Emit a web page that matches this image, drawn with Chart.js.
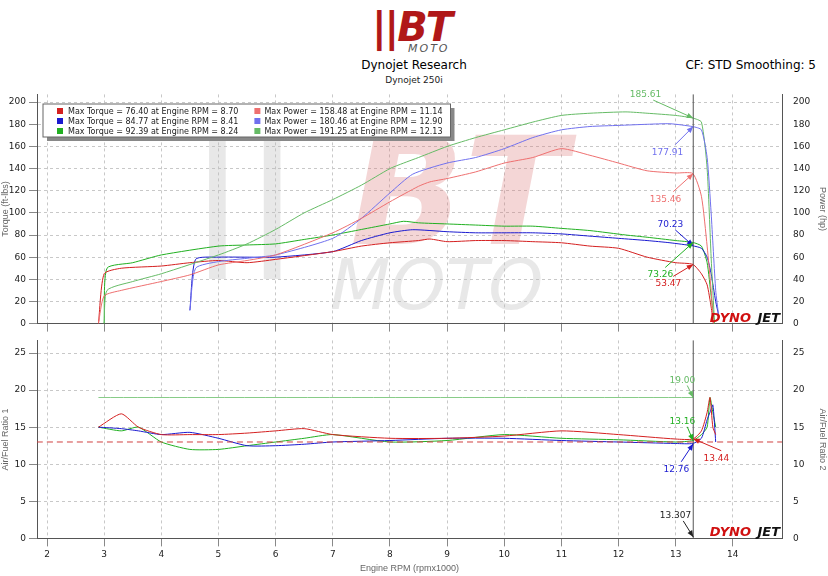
<!DOCTYPE html>
<html><head><meta charset="utf-8">
<script src="https://cdn.jsdelivr.net/npm/chart.js@4.4.0/dist/chart.umd.min.js"></script>
<style>
body{margin:0;width:828px;height:576px;background:#fff;font-family:"DejaVu Sans",sans-serif;position:relative;overflow:hidden}
#logo{position:absolute;left:372px;top:4px;font:italic 900 40px "DejaVu Sans";color:#b01818;letter-spacing:-2px}
#logo small{position:absolute;left:36px;top:38px;font:italic 11px "DejaVu Sans";color:#555;letter-spacing:2px}
#t1{position:absolute;left:0;width:828px;top:58px;text-align:center;font-size:12px;color:#000}
#t2{position:absolute;left:0;width:828px;top:75px;text-align:center;font-size:9px;color:#222}
#cf{position:absolute;right:12px;top:58px;font-size:12px}
#c1{position:absolute;left:0;top:86px}
#c2{position:absolute;left:0;top:332px}
</style></head><body>
<div id="logo">||BT<small>MOTO</small></div>
<div id="t1">Dynojet Research</div>
<div id="t2">Dynojet 250i</div>
<div id="cf">CF: STD Smoothing: 5</div>
<canvas id="c1" width="828" height="246"></canvas>
<canvas id="c2" width="828" height="244"></canvas>
<script>
// RPM x1000 samples per run
const rpm1 = [2.9,3.0,3.3,4,4.5,5,5.5,6,7,7.5,8,8.5,8.7,9,9.5,10,10.5,11,11.5,12,12.5,13,13.3,13.45,13.55,13.62,13.66];
const torque1 = [0,45,50,52,55,57,55,58,65,70,73,75,76.4,74,75,75,74,73,70,68,60,55,53.5,45,35,15,0];
const power1 = [0,25,30,38,44,53,57,62,82,95,110,124,128,131,137,145,150,158,152,145,138,136,135.5,115,70,30,0];
const rpm2 = [4.5,4.6,5,5.5,6,7,7.5,8,8.4,9,9.5,10,10.5,11,11.5,12,12.5,12.9,13.3,13.45,13.55,13.62,13.7,13.75];
const torque2 = [12,58,60,60,60,65,75,82,84.8,83,82,82,82,81,79,77,75,73,70.2,68,60,45,20,8];
const power2 = [12,50,56,59,62,77,95,118,135,145,150,158,168,175,178,179,180,180.5,177.9,175,150,100,30,8];
const rpm3 = [3.0,3.05,3.5,4,5,5.5,6,6.5,7,7.5,8,8.24,8.5,9,9.5,10,10.5,11,11.5,12.13,12.5,13,13.3,13.45,13.55,13.62,13.68];
const torque3 = [0,50,55,62,70,71,72,76,80,85,90,92.4,91,90,89,88,88,86,84,80,78,75,73.3,70,55,25,0];
const power3 = [0,30,38,45,62,72,85,100,112,125,140,145,150,160,168,175,182,188,190,191.2,190,188,185.6,182,140,60,0];
const afrRpm = [2.9,3.3,3.6,4,4.5,5,5.5,6,6.5,7,8,9,10,11,12,13,13.3,13.45,13.55,13.6,13.65,13.7];
const afr1 = [15,16.8,15,14,14,14,14.2,14.5,14.8,14,13.5,13.5,13.8,14.5,14,13.4,13.4,14.5,17,19,15,14];
const afr2 = [15,14.8,14.5,14,14.3,13.5,12.5,12.5,12.7,13,13.2,13.5,13.5,13.2,13,12.8,12.8,13.5,16,17,18,13];
const afr3 = [15,14.5,15,13,12,12,12.5,13,13.5,14,13,13.2,14,13.5,13.3,13,13.2,14,15,19,17,15];
const rpmTicks = [2,3,4,5,6,7,8,9,10,11,12,13,14];
const topTicks = [0,20,40,60,80,100,120,140,160,180,200];
const afrTicks = [0,5,10,15,20,25];
const cursor = 13.307;
const red = '#d42020', blue = '#1a1ad0', green = '#22b022';
const lred = '#ee7070', lblue = '#7070ee', lgreen = '#66bb66';

const pts = (xs, ys) => xs.map((x, i) => ({x: x, y: ys[i]}));
const line = (data, color, axis) => ({data: data, borderColor: color, borderWidth: 1, pointRadius: 0, showLine: true, yAxisID: axis || 'y', tension: 0.2});
const fitL = s => { s.width = 37; };
const fitR = s => { s.width = 46; };
const setTicks = vals => s => { s.ticks = vals.map(v => ({value: v})); };
const grid = {color: '#c8c8c8', tickColor: '#888'};
const border = {color: '#555', dash: [3, 3]};
const tickF = {font: {size: 9, family: 'DejaVu Sans'}, color: '#222'};

const overlay = (notes, brand) => ({
  id: 'overlay',
  beforeDatasetsDraw(c) {
    const g = c.ctx, a = c.chartArea;
    if (!brand) return;
    g.save();
    g.fillStyle = 'rgba(190,190,190,0.35)';
    g.font = 'italic 900 150px DejaVu Sans';
    g.fillText('||', 190, a.top + 150);
    g.fillStyle = 'rgba(220,120,120,0.3)';
    g.fillText('BT', 350, a.top + 150);
    g.fillStyle = 'rgba(190,190,190,0.35)';
    g.font = 'italic 70px DejaVu Sans';
    g.fillText('MOTO', 330, a.top + 215);
    g.restore();
  },
  afterDatasetsDraw(c) {
    const g = c.ctx, a = c.chartArea;
    g.save();
    const cx = c.scales.x.getPixelForValue(cursor);
    g.strokeStyle = '#555'; g.lineWidth = 1;
    g.beginPath(); g.moveTo(cx, a.top); g.lineTo(cx, a.bottom); g.stroke();
    g.font = '9px DejaVu Sans';
    notes.forEach(n => {
      const py = c.scales[n.axis].getPixelForValue(n.v);
      const lx = cx + n.dx, ly = py + n.dy;
      g.strokeStyle = n.c; g.fillStyle = n.c;
      g.beginPath(); g.moveTo(lx, ly); g.lineTo(cx, py); g.stroke();
      const ang = Math.atan2(py - ly, cx - lx);
      g.beginPath(); g.moveTo(cx, py);
      g.lineTo(cx - 7 * Math.cos(ang - 0.4), py - 7 * Math.sin(ang - 0.4));
      g.lineTo(cx - 7 * Math.cos(ang + 0.4), py - 7 * Math.sin(ang + 0.4));
      g.fill();
      g.textAlign = 'right';
      g.fillText(n.t, lx + 8, ly + (n.dy < 0 ? -3 : 10));
    });
    g.font = 'italic bold 13px DejaVu Sans';
    g.textAlign = 'right';
    g.fillStyle = '#d01010'; g.fillText('DYNO', a.right - 31, a.bottom - 2);
    g.fillStyle = '#111'; g.fillText('JET', a.right - 2, a.bottom - 2);
    g.restore();
  }
});

const legendBox = {
  id: 'legendBox',
  afterDraw(c) {
    const g = c.ctx;
    const rows = [
      [red, 'Max Torque = 76.40 at Engine RPM = 8.70', lred, 'Max Power = 158.48 at Engine RPM = 11.14'],
      [blue, 'Max Torque = 84.77 at Engine RPM = 8.41', lblue, 'Max Power = 180.46 at Engine RPM = 12.90'],
      [green, 'Max Torque = 92.39 at Engine RPM = 8.24', lgreen, 'Max Power = 191.25 at Engine RPM = 12.13']];
    g.save();
    g.font = '8px DejaVu Sans';
    const w1 = Math.max(...rows.map(r => g.measureText(r[1]).width));
    const w2 = Math.max(...rows.map(r => g.measureText(r[3]).width));
    const c2 = 68 + w1 + 16;
    const bw = c2 + 10 + w2 + 8 - 43;
    g.fillStyle = '#888'; g.fillRect(47, 22, bw, 33);
    g.fillStyle = '#fff'; g.fillRect(43, 18, bw, 33);
    g.strokeStyle = '#666'; g.strokeRect(43, 18, bw, 33);
    rows.forEach((r, i) => {
      const y = 21 + i * 10;
      g.fillStyle = r[0]; g.fillRect(57, y + 1, 6, 6);
      g.fillStyle = '#222'; g.fillText(r[1], 68, y + 7);
      g.fillStyle = r[2]; g.fillRect(c2, y + 1, 6, 6);
      g.fillStyle = '#222'; g.fillText(r[3], c2 + 10, y + 7);
    });
    g.restore();
  }
};

new Chart(document.getElementById('c1'), {
  type: 'scatter',
  data: {datasets: [
    line(pts(rpm1, power1), lred, 'y2'), line(pts(rpm2, power2), lblue, 'y2'), line(pts(rpm3, power3), lgreen, 'y2'),
    line(pts(rpm1, torque1), red), line(pts(rpm2, torque2), blue), line(pts(rpm3, torque3), green)]},
  options: {
    responsive: false, animation: false,
    layout: {padding: {top: 6, bottom: 0}},
    plugins: {legend: {display: false}, tooltip: {enabled: false}},
    scales: {
      x: {type: 'linear', min: 1.825, max: 14.86, afterBuildTicks: setTicks(rpmTicks), ticks: {display: false}, grid: grid, border: border},
      y: {min: 0, max: 207, afterFit: fitL, afterBuildTicks: setTicks(topTicks), ticks: tickF, grid: grid, border: border,
        title: {display: true, text: 'Torque (ft-lbs)', font: {size: 9}, padding: 0}},
      y2: {position: 'right', min: 0, max: 207, afterFit: fitR, afterBuildTicks: setTicks(topTicks), ticks: tickF, grid: {display: false}, border: {color: '#555'},
        title: {display: true, text: 'Power (hp)', font: {size: 9}, padding: 0}}
    }
  },
  plugins: [overlay([
    {axis: 'y2', v: 185.61, t: '185.61', c: lgreen, dx: -40, dy: -18},
    {axis: 'y2', v: 177.91, t: '177.91', c: lblue, dx: -18, dy: 18},
    {axis: 'y2', v: 135.46, t: '135.46', c: lred, dx: -20, dy: 18},
    {axis: 'y', v: 70.23, t: '70.23', c: blue, dx: -18, dy: -16},
    {axis: 'y', v: 73.26, t: '73.26', c: green, dx: -28, dy: 25},
    {axis: 'y', v: 53.47, t: '53.47', c: red, dx: -20, dy: 12}], true), legendBox]
});

const dashed = line([{x: 1.825, y: 13}, {x: 14.86, y: 13}], '#d04040');
dashed.borderDash = [6, 4];
new Chart(document.getElementById('c2'), {
  type: 'scatter',
  data: {datasets: [
    dashed,
    line([{x: 2.9, y: 19}, {x: cursor, y: 19}], '#88cc88'),
    line(pts(afrRpm, afr1), red), line(pts(afrRpm, afr2), blue), line(pts(afrRpm, afr3), green)]},
  options: {
    responsive: false, animation: false,
    layout: {padding: {top: 6, bottom: 2}},
    plugins: {legend: {display: false}, tooltip: {enabled: false}},
    scales: {
      x: {type: 'linear', min: 1.825, max: 14.86, afterBuildTicks: setTicks(rpmTicks), ticks: tickF, grid: grid, border: border,
        title: {display: true, text: 'Engine RPM (rpmx1000)', font: {size: 9}, padding: 0}},
      y: {min: 0, max: 26.7, afterFit: fitL, afterBuildTicks: setTicks(afrTicks), ticks: tickF, grid: grid, border: border,
        title: {display: true, text: 'Air/Fuel Ratio 1', font: {size: 9}, padding: 0}},
      y2: {position: 'right', min: 0, max: 26.7, afterFit: fitR, afterBuildTicks: setTicks(afrTicks), ticks: tickF, grid: {display: false}, border: {color: '#555'},
        title: {display: true, text: 'Air/Fuel Ratio 2', font: {size: 9}, padding: 0}}
    }
  },
  plugins: [overlay([
    {axis: 'y', v: 19, t: '19.00', c: lgreen, dx: -6, dy: -12},
    {axis: 'y', v: 13.16, t: '13.16', c: green, dx: -6, dy: -14},
    {axis: 'y', v: 12.76, t: '12.76', c: blue, dx: -12, dy: 18},
    {axis: 'y', v: 13.44, t: '13.44', c: red, dx: 28, dy: 12},
    {axis: 'y', v: 0.2, t: '13.307', c: '#222', dx: -10, dy: -16}], false)]
});
</script>
</body></html>
